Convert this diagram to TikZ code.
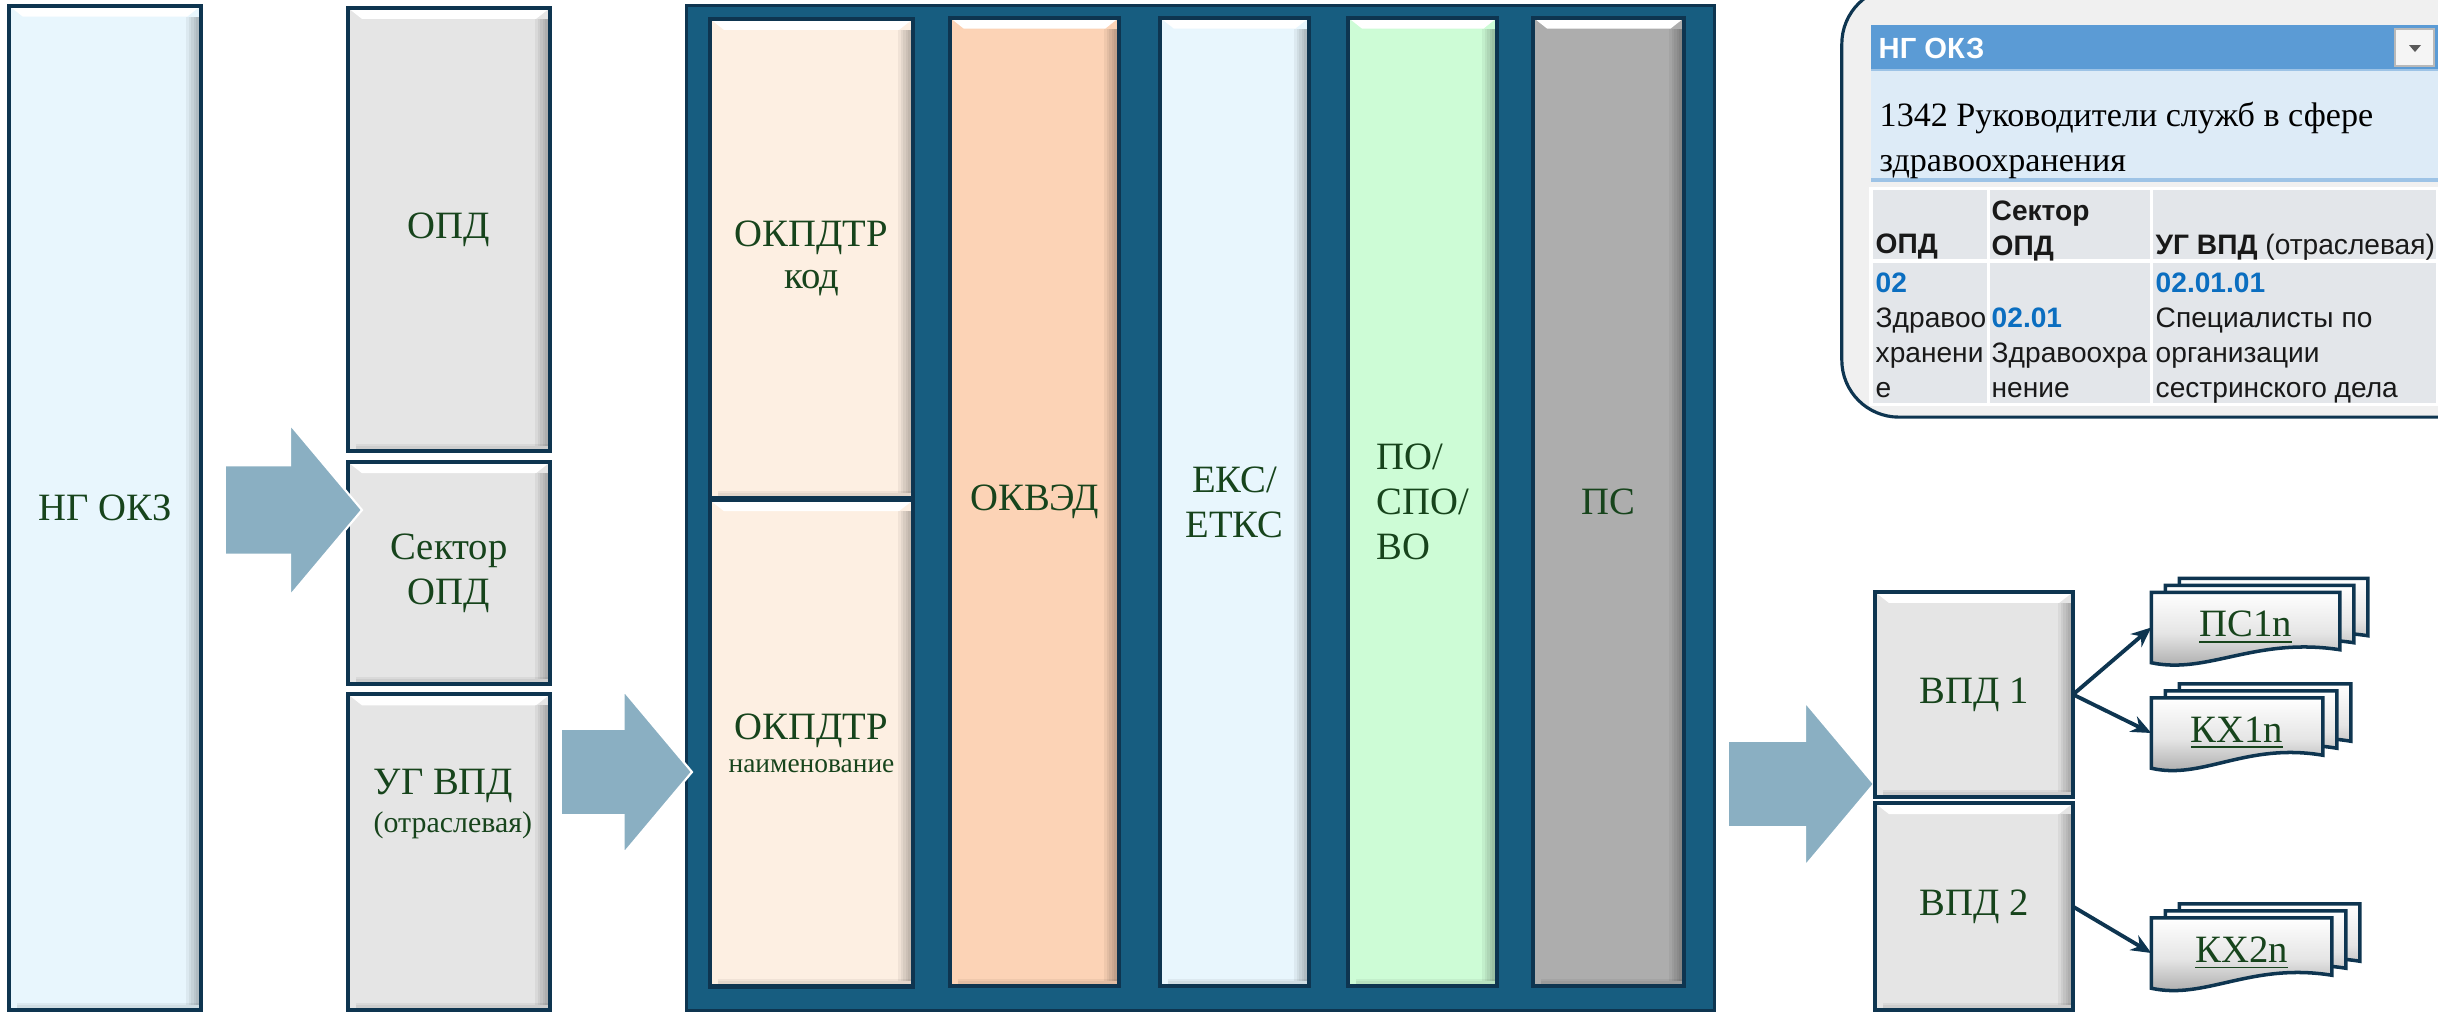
\documentclass[tikz,border=0pt]{standalone}
\usepackage{fontspec}
\setmainfont{Liberation Serif}
\setsansfont{Liberation Sans}
\usepackage{tikz}
\usetikzlibrary{shapes.arrows, arrows.meta, positioning, calc, backgrounds}

\definecolor{navy}{HTML}{0E3550}
\definecolor{bankblue}{HTML}{175D80}
\definecolor{labelgreen}{HTML}{17441C}
\definecolor{boxgray}{HTML}{E5E5E5}
\definecolor{okzblue}{HTML}{E8F6FD}
\definecolor{peachlight}{HTML}{FDEFE2}
\definecolor{peach}{HTML}{FCD3B6}
\definecolor{mint}{HTML}{CDFCD6}
\definecolor{psgray}{HTML}{ADADAD}
\definecolor{flowblue}{HTML}{8AAFC2}
\definecolor{hdrblue}{HTML}{5B9BD5}
\definecolor{rowblue}{HTML}{DDEBF7}
\definecolor{rowline}{HTML}{9DC3E6}
\definecolor{cellgray}{HTML}{E3E6EA}
\definecolor{codeblue}{HTML}{0B6EC0}
\definecolor{cardgray}{HTML}{F0F0F0}

\newcommand{\lblfont}{\fontsize{11}{12.8}\selectfont}
\newcommand{\cellfont}{\sffamily\fontsize{8}{9.96}\selectfont}

% raised look of the boxes
\tikzset{
  bevel/.style={path picture={
    \fill[white]
      (path picture bounding box.north west) -- (path picture bounding box.north east)
      -- ([shift={(-0.14cm,-0.11cm)}]path picture bounding box.north east)
      -- ([shift={(0.14cm,-0.11cm)}]path picture bounding box.north west) -- cycle;
    \foreach \k in {1,...,6}
      \fill[black, opacity=0.05]
        ([shift={(-0.025cm*\k,-0.11cm)}]path picture bounding box.north east)
        rectangle ([yshift=0.05cm]path picture bounding box.south east);
    \foreach \k in {1,...,3}
      \fill[black, opacity=0.05]
        ([shift={(0.08cm,0.025cm*\k)}]path picture bounding box.south west)
        rectangle (path picture bounding box.south east);
  }}
}

% one sheet of a document stack, shifted by (#2,#3)
\newcommand{\docsheet}[3]{%
  \filldraw[docpage]
    ($(#1.north west)+(#2,#3)$) -- ($(#1.north east)+(#2,#3)$)
    -- ($(#1.south east)+(#2,#3)+(0,-13)$)
    .. controls ($(#1.south west)!0.55!(#1.south east)+(#2,#3)+(0,-26)$)
           and ($(#1.south west)!0.3!(#1.south east)+(#2,#3)+(0,12)$)
    .. ($(#1.south west)+(#2,#3)$) -- cycle;}

\begin{document}
\begin{tikzpicture}[
    x=0.01cm, y=-0.01cm,
    block/.style={rectangle, draw=navy, line width=1.2pt, outer sep=0pt,
                  inner sep=2pt, align=center, font=\lblfont,
                  text=labelgreen, bevel},
    flow/.style={single arrow, fill=flowblue, draw=white, line width=0.6pt,
                 single arrow tip angle=100, inner xsep=0pt, outer sep=0pt,
                 anchor=tip},
    docnode/.style={rectangle, inner sep=0pt, minimum height=0.69cm,
                    font=\lblfont, text=labelgreen},
    docpage/.style={draw=navy, line width=1pt, top color=white,
                    bottom color=gray!75, middle color=boxgray},
    conn/.style={-{Stealth[length=0.2cm, width=0.17cm]}, line width=1.1pt,
                 draw=navy},
    celltext/.style={anchor=north west, inner sep=0pt, align=left,
                     font=\cellfont, text=black!90}
]
    \useasboundingbox (0,0) rectangle (2438,1012);
    \clip (0,0) rectangle (2438,1012);

    % left columns
    \node[block, fill=okzblue, minimum width=1.92cm, minimum height=10.04cm]
          (ngokz) at (105,508) {НГ ОКЗ};
    \node[block, fill=boxgray, minimum width=2.02cm, minimum height=4.43cm]
          (opd) at (449,229.5) {ОПД};
    \node[block, fill=boxgray, minimum width=2.02cm, minimum height=2.22cm,
          below=0.11cm of opd] (sector) {Сектор\\ОПД};
    \node[block, fill=boxgray, minimum width=2.02cm, minimum height=3.16cm,
          below=0.10cm of sector] (ugvpd) {};
    \node[anchor=north west, inner sep=0pt, align=left,
          font=\fontsize{11}{10.8}\selectfont, text=labelgreen]
          (ugvpdlbl) at (373,768) {УГ ВПД\\{\fontsize{8.5}{10}\selectfont (отраслевая)}};

    % classifiers
    \node[draw=navy, fill=bankblue, line width=1pt, minimum width=10.27cm,
          minimum height=10.04cm] (bank) at (1200.5,508) {};
    \node[block, fill=peachlight, minimum width=2.03cm, minimum height=4.79cm,
          font=\fontsize{11}{11.7}\selectfont] (okpdcode) at (811.5,258.5) {ОКПДТР\\код};
    \node[block, fill=peachlight, minimum width=2.03cm, minimum height=4.86cm,
          font=\fontsize{11}{9.3}\selectfont, below=0.02cm of okpdcode]
          (okpdname) {ОКПДТР\\{\fontsize{7.8}{9}\selectfont наименование}};
    \node[block, fill=peach, minimum width=1.69cm, minimum height=9.68cm]
          (okved) at (1034.5,502) {ОКВЭД};
    \node[block, fill=okzblue, minimum width=1.49cm, minimum height=9.68cm,
          right=0.41cm of okved] (eks) {ЕКС/\\ЕТКС};
    \node[block, fill=mint, minimum width=1.49cm, minimum height=9.68cm,
          align=left, right=0.39cm of eks] (edu) {ПО/\\СПО/\\ВО};
    \node[block, fill=psgray, minimum width=1.51cm, minimum height=9.68cm,
          right=0.36cm of edu] (ps) {ПС};

    % big arrows
    \node[flow, minimum height=1.37cm, inner ysep=0.435cm,
          single arrow head extend=0.41cm] (flowsector) at (362,510) {};
    \node[flow, minimum height=1.31cm, inner ysep=0.42cm,
          single arrow head extend=0.385cm] (flowbank) at (692,772) {};
    \node[flow, minimum height=1.46cm, inner ysep=0.42cm,
          single arrow head extend=0.39cm] (flowvpd) at (1874,784) {};

    % kinds of activity
    \node[block, fill=boxgray, minimum width=1.98cm, minimum height=2.05cm]
          (vpd1) at (1974,694.5) {ВПД 1};
    \node[block, fill=boxgray, minimum width=1.98cm, minimum height=2.07cm,
          below=0.06cm of vpd1] (vpd2) {ВПД 2};

    \node[docnode, minimum width=1.87cm] (ps1n) at (2245.5,627.5) {\underline{ПС1n}};
    \node[docnode, minimum width=1.70cm] (kx1n) at (2237,733) {\underline{КХ1n}};
    \node[docnode, minimum width=1.79cm] (kx2n) at (2241.5,953) {\underline{КХ2n}};

    \begin{scope}[on background layer]
      \foreach \doc in {ps1n, kx1n, kx2n}{
        \docsheet{\doc}{28}{-14}
        \docsheet{\doc}{14}{-7}
        \docsheet{\doc}{0}{0}
      }
    \end{scope}

    \draw[conn] (vpd1.east) -- (ps1n.west);
    \draw[conn] (vpd1.east) -- (kx1n.west);
    \draw[conn] (vpd2.east) -- (kx2n.west);

    % card with the example record
    \node[draw=navy, line width=0.9pt, fill=cardgray, rounded corners=0.57cm,
          minimum width=6.78cm, minimum height=4.30cm] (card) at (2181,202) {};
    \fill[hdrblue] (1871,25) rectangle (2440,70);
    \node[anchor=west, inner sep=0pt, text=white,
          font=\sffamily\bfseries\fontsize{8.3}{10}\selectfont]
          (cardtitle) at (1878,48) {НГ ОКЗ};
    \draw[gray!55, fill=gray!8, line width=0.4pt] (2395,29) rectangle (2434,66);
    \fill[gray!70!black] (2409,45) -- (2421,45) -- (2415,52) -- cycle;
    \fill[rowblue] (1871,71) rectangle (2440,180);
    \draw[rowline, line width=0.8pt] (1871,70) -- (2440,70);
    \draw[rowline, line width=0.9pt] (1871,180) -- (2440,180);
    \node[anchor=north west, inner sep=0pt, align=left, text=black,
          font=\fontsize{9.7}{12.8}\selectfont]
          (cardname) at (1879,101) {1342 Руководители служб в сфере\\здравоохранения};

    \fill[white] (1869,187) rectangle (2440,406);
    \fill[cellgray] (1873,190) rectangle (1987,259);
    \fill[cellgray] (1990,190) rectangle (2150,259);
    \fill[cellgray] (2153,190) rectangle (2436,259);
    \fill[cellgray] (1873,263) rectangle (1987,403);
    \fill[cellgray] (1990,263) rectangle (2150,403);
    \fill[cellgray] (2153,263) rectangle (2436,403);

    \node[celltext] (hopd) at (1875,233) {\textbf{ОПД}};
    \node[celltext] (hsector) at (1991,200) {\textbf{Сектор}\\\textbf{ОПД}};
    \node[celltext] (hugvpd) at (2155,233) {\textbf{УГ ВПД} (отраслевая)};
    \node[celltext] (vopd) at (1875,272)
          {\textcolor{codeblue}{\textbf{02}}\\Здравоо\\хранени\\е};
    \node[celltext] (vsector) at (1991,307)
          {\textcolor{codeblue}{\textbf{02.01}}\\Здравоохра\\нение};
    \node[celltext] (vugvpd) at (2155,272)
          {\textcolor{codeblue}{\textbf{02.01.01}}\\Специалисты по\\организации\\сестринского дела};
\end{tikzpicture}
\end{document}
